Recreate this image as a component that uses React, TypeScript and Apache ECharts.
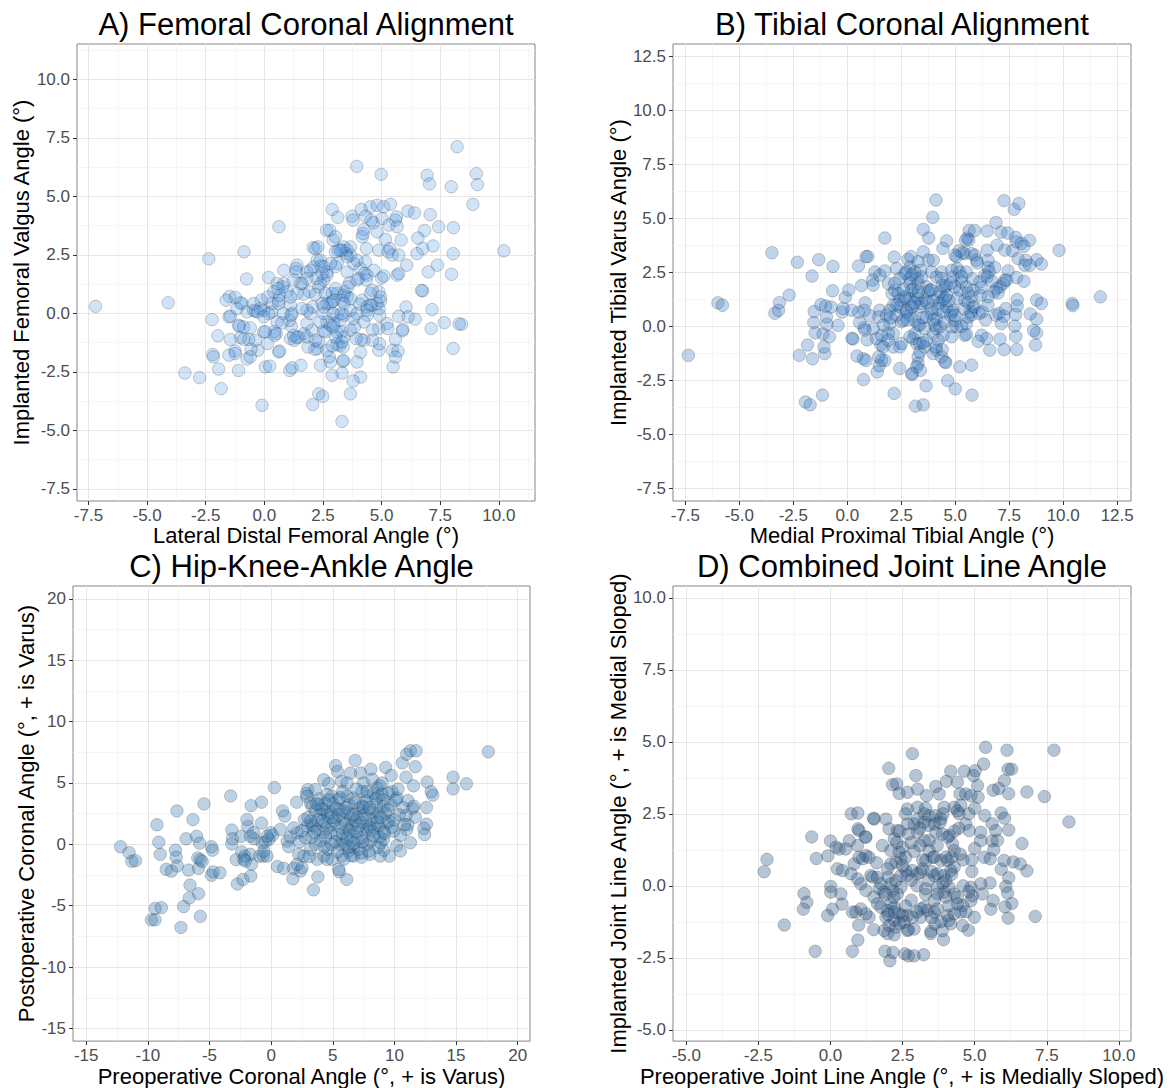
import React, { useEffect, useRef } from "react";
import * as echarts from "echarts";

// ---------- DATA ----------
const FEMORAL_POINTS: number[][] = [
  [-7.2,0.3],[-4.1,0.45],[-2.37,2.33],[-3.39,-2.55],[-2.76,-2.75],[-1.84,-3.22],[-1.95,-2.38],[-1.1,-2.44],[-0.1,-3.93],[0.62,3.7],[-0.87,2.63],[-0.76,1.47],[3.94,6.28],[4.98,5.94],[8.22,7.12],[6.94,5.9],[7.04,5.53],[7.97,5.41],[9.04,5.97],[9.09,5.5],[8.89,4.66],[10.21,2.67],[8.05,-1.5],[8.41,-0.47],[8.3,-0.45],[7.67,-0.4],[7.11,-0.65],[7.15,0.16],[7.98,1.67],[8.05,2.55],[8.06,3.66],[7.43,3.7],[7.07,4.22],[6.83,3.54],[6.75,2.77],[7.19,2.88],[7.38,2.06],[6.99,1.77],[6.75,0.96],[6.7,0.98],[6.51,2.55],[6.55,3.22],[6.12,4.37],[6.4,4.29],[6.07,2.06],[6.43,-0.25],[6.04,0.27],
  [2.89,4.44],[3.13,4.1],[3.74,4.15],[3.78,3.98],[4.13,4.44],[4.31,4.15],[4.52,4.55],[4.81,4.62],[5.09,4.55],[5.38,4.66],[5.63,4.12],[5.59,3.98],[5.02,4.05],[4.64,3.87],[4.55,3.98],[4.24,3.58],[4.17,3.27],[4.21,3.41],[4.81,3.48],[5.31,3.77],[5.66,3.7],[5.16,3.16],[4.35,2.77],[4.88,2.7],[5.35,2.77],[5.28,2.63],[5.45,2.49],[5.73,2.49],[5.83,3.13],
  [5.66,1.63],[5.73,1.7],[4.99,1.51],[5.09,1.6],[6.13,-0.15],[5.73,-0.13],[5.9,-0.69],[5.88,-0.75],[5.59,-1.11],[5.46,-1.58],[5.49,-2.29],[5.7,-1.61],[5.59,-1.87],[5.23,-0.44],[4.88,-0.65],[4.92,-0.08],[4.89,0.2],[4.62,-0.71],[5.26,-0.65],[4.88,-1.58],[4.91,-1.3],[4.61,-1.15],[4.13,-1.12],[4.24,-1.15],[3.91,-1.08],[4.1,-1.68],[3.95,-2.08],[3.36,-2.05],[3.36,-2.01],[4.1,-2.72],[3.67,-3.44],[3.78,-2.89],[3.31,-2.55],[2.89,-2.65],[3.31,-4.62],[2.32,-3.44],[2.49,-3.55],[2.06,-3.9],[0.04,-2.29],[0.23,-2.26],[1.08,-2.44],[1.18,-2.33],[1.56,-2.22],[2.39,-2.22],[2.82,-2.08],[2.77,-1.86],[2.67,-1.58],[3.1,-1.32],[3.21,-1.39],[3.36,-1.44],[2.89,-1.39],[2.25,-1.51],[2.15,-1.54],[1.86,-1.44],[1.82,-1.01],[1.68,-0.87],[2.03,-0.72],[2.53,-0.75],[2.6,-0.79],[2.32,-1.22],[2.18,-1.15],[1.82,-0.44],[1.47,-1.01],[1.28,-1.15],[1.11,-1.08],[1.25,-0.94],[1.15,-0.55],[1.39,-1.04],[0.61,-1.65],[0.65,-1.61],[0.14,-1.29],[0.51,-0.87],[0.43,-0.78],[-0.03,-0.79],[-0.28,-1.58],[-0.57,-1.54],[-0.74,-1.95],[-0.6,-1.86],[-0.38,-1.15],[-0.67,-1.11],[-1.02,-1.04],[-0.88,-1.11],[-1.45,-1.12],[-1.25,-1.61],[-1.24,-1.72],[-1.51,-1.79],[-2.2,-1.76],[-2.17,-1.86],[-1.98,-0.96],[-2.23,-0.27],[-1.51,-0.15],[-1.1,-0.51],[-1.06,-0.55],[-0.88,-0.58],[-0.6,-0.62],[-0.95,0.42],[-1.02,0.45],[-1.49,0.72],[-1.24,0.68],[-1.17,0.2],[-0.74,0.06],[-0.46,0.13],[-0.38,0.09],[-0.13,0.56],[-0.03,0.13],[0.3,0.06],[0.33,0.42],[0.61,0.42],[0.83,1.27],[0.78,1.13],[0.61,0.56],[0.65,0.77],[1.11,0.35],[1.18,-0.01],[1.08,-0.3],[1.14,-0.08],[0.97,0.92],[0.8,-0.01],[0.54,-0.37],[0.75,-0.41],[0.18,-0.01],[0.18,1.53],[0.83,1.84],[1.39,2.06],[1.35,1.91],[1.36,1.77],[1.61,1.27],[1.82,1.77],[1.96,1.84],[2.11,1.99],[2.25,2.27],[2.08,2.81],[2.18,2.77],[2.29,2.84],[2.39,2.27],[2.42,2.02],[2.67,1.63],[2.67,1.77],[2.53,1.42],[2.39,1.27],[2.22,1.49],[1.82,1.49],[1.93,0.92],[2.32,1.13],[2.18,0.8],[1.68,0.82],[1.54,1.27],[1.25,1.42],[1.39,0.85],[2.6,0.85],[2.82,0.42],[2.67,0.42],[2.89,0.85],[3.1,0.85],[3.43,0.92],[3.64,1.31],[3.39,0.77],[3.53,0.7],[3.31,0.56],[3.67,0.63],[3.39,0.42],[3.56,1.13],[3.03,1.06],[2.96,0.56],[2.89,0.49],[3.1,-0.08],[2.93,-0.01],[3.39,-0.08],[3.24,-0.3],[3.29,-0.01],[2.82,-0.51],[2.96,-0.44],[2.67,-0.37],[2.39,-0.37],[2.06,0.28],[1.96,-0.01],[1.82,0.13],[2.46,0.42],[2.53,0.28],[2.53,-0.01],[4.17,0.56],[4.07,0.39],[4.38,0.28],[4.59,0.35],[4.81,0.42],[4.95,0.53],[4.95,0.7],[4.88,0.92],[4.52,0.85],[4.59,0.99],[4.52,0.35],[4.38,0.13],[4.38,-0.08],[3.81,-0.22],[3.67,0.13],[3.95,-0.01],[4.24,-0.37],[3.84,-0.58],[3.67,-0.72],[3.31,-0.79],[3.39,-1.01],[3.31,-1.22],[3.1,-0.79],[3.03,-1.01],[2.93,-0.58],[3.53,1.77],[3.81,2.13],[4.31,2.2],[4.1,1.91],[4.28,1.7],[4.03,1.49],[4.38,1.63],[4.35,1.42],[4.67,1.84],[3.95,2.27],[3.67,2.49],[3.53,2.7],[3.46,2.56],[3.31,2.7],[3.14,2.7],[3.03,2.63],[3.39,2.84],[3.67,2.84],[3.53,2.42],[3.1,2.13],[3.03,1.99],[2.82,2.13],[2.53,1.99],[2.46,1.7],[2.93,3.13],[2.79,3.55],[3.03,3.27],[2.65,3.55],[3.24,2.7],[3.95,1.42],[1.61,0.2],[1.11,0.7],[0.54,1.27],[0.4,0.92],[0.58,1.06],[0.14,0.7],[-0.17,0.2],[-0.28,0.06],[-0.46,0.42],[-0.03,-0.15],[0.43,-0.94],[0.04,-0.79],[-1.45,-0.12],[-1.63,0.56]
];

const TIBIAL_POINTS: number[][] = [
  [-7.36,-1.34],[-5.99,1.09],[-5.78,0.98],[-3.49,3.41],[-3.35,0.61],[-3.18,0.74],[-3.14,1.1],[-2.69,1.45],[-2.31,2.97],[-2.22,-1.34],[-1.84,-0.86],[-1.94,-3.5],[-1.72,-3.63],[-1.63,2.33],[-1.61,-1.5],[-1.55,0.18],[-1.53,0.69],[-1.49,-0.3],[-1.32,3.09],[-1.15,-3.18],[-1.04,-1.26],[-1.08,-0.95],[-1.12,-0.35],[-0.94,0.1],[-1.22,1.01],[-0.75,0.9],[-0.66,2.78],[-0.68,1.65],[-0.82,-0.48],[-0.43,0.05],[-0.24,0.66],[-0.09,1.34],[0.07,1.69],[0.52,2.8],[0.87,3.23],[0.95,3.23],[0.66,1.89],[0.26,-0.58],[0.22,-0.55],[0.45,-1.37],[0.75,-1.5],[0.87,-1.58],[0.75,-2.46],[0.92,-0.62],[0.78,-0.06],[0.57,0.18],[0.52,0.66],[0.83,1.09],[1.04,0.5],[1.39,-2.11],[1.48,-1.82],[1.74,-1.58],[1.56,-0.86],[1.74,4.09],[2.17,3.21],[2.17,-3.1],[2.43,-1.95],[2.81,3.1],[2.95,3.23],[2.99,-2.22],[3.16,-3.69],[3.52,-3.63],[3.65,-2.75],[3.52,4.49],[3.77,4.09],[3.96,5.05],[4.11,5.85],[4.43,3.61],[4.6,3.96],[4.65,-2.51],[5.0,-2.89],[5.21,-1.87],[5.76,-1.79],[5.78,-3.18],[5.56,4.09],[5.64,4.44],[5.9,4.44],[6.48,4.41],[6.89,4.81],[7.26,5.82],[7.73,5.42],[7.95,5.69],[7.12,4.36],[7.43,4.32],[7.81,4.12],[8.44,3.98],[9.81,3.52],[10.42,1.06],[10.45,0.96],[11.72,1.37],[8.99,2.89],[8.77,3.09],[8.77,1.22],[8.99,1.06],[8.77,-0.3],[8.72,-0.86],[8.63,-0.19],[8.47,0.58],[8.77,0.34],[7.85,-1.07],[7.26,-1.07],[6.6,-1.1],[7.07,-0.59],[7.81,-0.46],[7.76,0.02],
  [1.28,2.52],[1.51,2.37],[1.74,2.57],[1.17,2.14],[1.2,1.91],[0.79,0.75],[0.2,0.75],[-0.19,0.83],[-0.96,0.44],[-1.0,0.94],[1.51,0.75],[1.46,0.44],[1.35,-0.56],[1.59,-0.41],[1.67,-0.95],[1.46,-1.41],[1.59,-1.56],[2.13,-0.95],[2.13,-0.33],[1.9,-0.33],[1.97,0.13],[2.44,-0.95],[2.51,-0.79],[2.07,1.52],[2.2,1.68],[2.36,1.52],[2.44,1.21],[2.44,0.9],[2.13,0.98],[1.97,0.75],[2.67,1.29],[2.74,0.75],[2.51,0.21],[2.9,0.52],[3.05,0.9],[2.9,1.29],[3.05,1.75],[3.28,1.98],[3.24,2.22],[3.44,2.29],[3.67,1.83],[3.75,1.6],[3.59,1.21],[3.21,1.44],[3.36,0.9],[3.28,0.06],[3.21,-0.79],[3.05,-0.56],[3.36,-0.79],[3.67,-0.64],[3.59,-0.95],[3.98,-0.33],[4.13,-0.1],[4.13,0.36],[3.9,0.83],[3.98,1.21],[4.21,1.37],[4.29,1.6],[4.6,1.44],[4.44,1.21],[4.6,0.9],[4.9,0.75],[4.78,0.52],[4.52,1.83],[4.9,2.29],[5.09,2.68],[5.06,3.22],[5.44,3.37],[5.75,3.37],[5.63,3.99],[5.21,2.52],[5.21,1.68],[5.52,1.83],[5.44,1.21],[5.83,0.9],[5.75,0.52],[5.52,0.13],[5.44,-0.41],[5.06,-0.02],[4.83,-0.48],[4.44,-0.41],[4.21,-0.64],[4.13,-1.1],[3.98,-1.26],[3.28,-1.41],[3.28,-1.72],[3.21,-1.87],[3.01,-2.18],[4.52,-1.64],[4.37,-1.41],[3.52,3.45],[3.75,3.07],[2.9,2.75],[2.28,2.68],[2.44,2.22],[2.74,2.52],[2.9,2.22],[3.9,2.52],[4.13,2.29],[4.37,2.52],[1.9,1.98],[1.82,0.52],[2.28,0.52],[1.67,0.06],[1.9,-0.64],[1.2,-0.1],[0.82,-0.17],
  [8.07,3.84],[7.84,3.91],[8.18,3.71],[5.48,3.99],[5.18,3.5],[5.34,3.4],[4.98,3.3],[5.91,3.3],[5.99,3.06],[6.48,3.53],[6.94,3.76],[7.3,3.53],[7.65,3.5],[7.91,3.14],[8.27,3.06],[8.22,2.83],[8.45,2.83],[6.52,3.06],[6.52,2.73],[6.83,2.73],[6.37,2.37],[6.48,2.29],[7.45,2.57],[7.84,2.26],[8.18,2.09],[7.3,2.14],[7.22,1.98],[7.07,1.83],[6.91,1.75],[6.79,1.6],[6.99,1.55],[7.38,2.14],[6.57,2.52],[6.14,2.06],[5.6,1.55],[5.83,1.68],[5.75,1.37],[5.91,0.9],[6.11,0.6],[6.26,0.67],[5.71,0.67],[6.52,1.37],[6.52,0.98],[6.17,1.44],[6.88,0.52],[7.03,0.6],[7.25,0.47],[7.34,0.83],[7.14,0.13],[7.87,1.24],[7.87,0.94],[7.8,0.55],[6.45,-0.56],[6.22,-0.41],[6.06,-0.69],[5.52,-0.36],[4.87,-0.02],[5.29,0.01],[4.56,-1.67],[4.4,-1.07],[4.1,-0.95],[3.39,-2.03],[3.36,-1.18],[3.51,-0.76],[3.28,2.99],[3.98,3.06],[4.83,2.6],[5.52,2.52],[6.02,2.94],[5.29,2.06],[4.59,1.91],[4.36,2.22],[3.82,1.68],[3.13,2.52],[2.67,2.45],[2.9,1.98],[2.97,1.68],[3.28,1.29],[2.67,1.37],[2.74,0.67],[2.59,0.29],[2.97,0.9],[3.44,1.06],[4.29,1.06],[4.52,1.29],[4.98,1.83],[5.6,0.44],[4.83,0.67],[4.44,0.67],[3.9,0.6],[3.67,0.44],[3.36,0.06],[3.13,0.29],[4.29,-0.02],[4.06,0.06],[3.59,-0.1],[3.13,-0.33],[2.9,-0.48],[4.98,0.29],
  [2.3,1.0],[2.6,1.7],[2.8,0.3],[3.1,1.1],[3.3,1.6],[3.5,0.4],[3.7,1.1],[3.9,1.7],[4.0,0.3],[4.2,0.8],[4.4,1.9],[4.5,0.2],[4.7,1.2],[4.8,2.0],[5.0,0.5],[5.1,1.3],[5.3,2.3],[5.4,0.8],[5.6,1.1],[5.8,2.2],[3.0,2.4],[3.4,2.6],[2.0,0.4],[2.2,2.0],[6.2,1.8],[6.7,2.1],[6.4,0.3]
];

const HKA_POINTS: number[][] = [
  [-12.21,-0.2],[-11.52,-0.68],[-11.3,-1.39],[-11.0,-1.33],[-9.26,1.59],[-9.11,0.17],[-8.99,-0.82],[-9.71,-6.15],[-9.41,-6.15],[-9.41,-5.22],[-8.9,-5.16],[-8.51,-2.04],[-8.09,-2.18],[-7.64,2.72],[-7.76,-0.48],[-7.7,-1.05],[-7.61,-1.76],[-7.31,-6.77],[-7.1,-5.07],[-6.89,0.45],[-6.7,-2.1],[-6.64,-4.37],[-6.58,-3.32],[-6.34,2.01],[-6.04,0.65],[-5.95,-1.11],[-5.89,-1.96],[-5.8,0.09],[-5.89,-4.02],[-5.74,-5.87],[-5.74,-1.25],[-5.6,-1.4],[-5.44,3.29],[-4.84,-0.2],[-4.75,-0.48],[-4.84,-2.52],[-4.7,-2.25],[-4.15,-2.32],[-3.28,3.94],[-3.19,1.16],[-3.13,0.45],[-3.19,0.03],[-2.83,-1.25],[-2.74,-3.23],[-2.29,-2.86],[-2.38,-0.62],[-2.13,-0.96],[-2.43,0.65],[-1.89,1.45],[-1.68,0.65],[-1.62,3.15],[-1.65,-2.58],[-1.59,-1.62],[-1.68,-0.82],[-1.38,0.45],[-0.93,-0.96],[-0.78,1.73],[-0.78,3.43],[-0.63,-0.96],[-0.33,-0.96],[-0.48,0.17],[-0.03,0.94],[0.12,0.74],[0.27,4.62],[0.51,-1.81],[0.93,2.72],[1.11,2.3],[1.02,-1.96],[1.77,-2.81],[1.83,-1.96],[2.07,3.43],[2.38,-2.18],[3.43,-3.71],[3.79,-2.66],[5.53,-2.24],[6.13,-2.86],[5.23,6.41],[5.38,5.92],[6.82,6.83],[7.25,5.81],[8.09,6.12],[9.29,6.26],[9.74,5.61],[10.64,6.63],[11.0,7.34],[11.3,7.62],[11.76,7.62],[11.7,6.32],[10.94,5.47],[11.55,4.76],[12.66,5.07],[12.99,4.28],[13.11,4.0],[12.6,3.0],[12.6,1.64],[12.39,1.3],[12.45,0.79],[14.76,5.47],[14.76,4.51],[15.84,4.93],[17.62,7.54],[11.7,2.21],[11.46,2.92],[11.09,3.57],[10.94,2.35],[11.09,1.59],[11.0,1.2],[10.49,0.74],[10.19,-0.11],[10.49,-0.54],[9.59,-0.96],[8.84,-0.96],[9.14,-0.48],[8.7,-0.25],[8.0,-0.82],[7.34,-1.05],
  [6.43,5.8],[4.27,5.26],[4.67,4.94],[5.7,5.12],[6.16,4.99],[7.51,4.99],[8.81,4.78],[8.59,4.59],[2.97,4.45],[2.86,4.13],[3.59,4.45],[2.92,3.91],[3.19,3.37],[3.32,3.1],[3.86,3.24],[4.54,4.05],[4.94,3.91],[5.48,3.64],[6.16,3.91],[6.7,3.77],[7.38,4.31],[7.78,3.91],[8.32,4.18],[8.73,3.91],[9.0,4.05],[9.54,4.18],[9.81,4.31],[10.21,3.77],[11.57,3.1],[10.81,1.61],[9.4,1.75],[9.54,1.88],[9.13,1.07],[8.73,1.48],[8.19,1.07],[7.78,1.61],[7.38,1.21],[7.16,2.56],[7.38,3.1],[7.92,2.83],[8.59,3.24],[8.73,2.56],[8.59,2.15],[9.13,3.1],[6.83,1.88],[6.43,2.15],[6.16,2.56],[5.48,2.83],[5.21,2.15],[4.54,2.42],[4.27,2.83],[4.0,2.42],[3.46,1.48],[2.92,1.48],[2.78,0.53],[3.32,1.61],[3.73,1.21],[4.27,0.94],[4.81,0.94],[5.35,0.8],[5.75,0.4],[5.62,-0.01],[4.94,1.61],[4.4,1.75],[6.29,1.21],[6.43,0.67],[6.97,0.4],[7.38,0.53],[7.78,-0.01],[6.7,-0.28],[6.29,-0.55],[5.75,-0.95],[5.89,-1.22],[5.48,-2.03],[4.94,-1.22],[4.27,-0.95],[4.54,-1.22],[3.73,-1.22],[3.59,-0.01],[3.19,-0.41],[2.65,-0.95],[2.24,-0.82],[2.11,-1.63],[2.51,-1.9],[1.3,0.26],[1.43,-0.2],[1.56,0.61],[2.11,0.94],[1.83,1.34],[0.75,1.21],[-0.19,0.4],[-0.6,-0.55],[7.92,-0.55],[6.7,-0.95],[7.78,1.21],[9.13,0.4],[8.86,0.13],[8.05,0.26],[9.94,1.07],[11.3,0.13],[-1.95,2.02],[-2.22,-1.22],[-2.09,-1.36],[-1.41,0.94],[-0.73,0.13],[-0.33,0.67],
  [3.0,2.2],[3.6,2.7],[4.2,1.9],[4.8,2.6],[5.0,3.3],[5.6,1.4],[5.9,2.0],[6.3,3.2],[6.6,1.6],[7.0,2.2],[7.4,1.8],[7.7,3.5],[8.1,2.0],[8.4,1.3],[8.8,0.6],[9.3,2.5],[9.7,3.2],[10.0,2.0],[4.0,0.3],[4.6,-0.4],[5.2,0.2],[6.0,0.0],[6.5,-0.9],[7.1,-0.4],[3.3,0.6],[2.5,1.1],[3.9,3.7],[4.4,3.3],[5.8,4.3],[6.9,4.5],[8.2,5.3],[9.0,5.0],[10.3,4.5],[10.7,3.0],
  [3.5,1.0],[3.8,2.0],[4.1,2.9],[4.3,-0.2],[4.5,1.3],[4.7,3.6],[4.9,0.0],[5.1,1.9],[5.3,2.9],[5.4,-0.6],[5.6,3.8],[5.8,0.9],[6.0,1.6],[6.1,3.0],[6.3,-0.2],[6.4,1.1],[6.6,2.4],[6.8,3.4],[6.9,1.0],[7.1,1.5],[7.2,2.9],[7.4,0.2],[7.6,2.4],[7.8,4.3],[8.0,1.4],[8.2,2.6],[8.3,0.7],[8.5,3.7],[8.6,1.8],[8.9,2.2],[9.1,3.6],[9.2,0.9],[9.5,2.8],[9.8,1.4],[10.1,3.6],[10.4,2.4],[3.2,1.9],[3.7,3.3],[4.4,0.6],[5.5,2.4],[6.2,0.5],[7.5,3.0],[8.0,3.0],[4.9,2.2],[5.9,2.7],[6.7,0.1],[7.3,-0.7],[3.1,-1.0],[2.7,2.0],[2.3,0.2]
];

const JLA_POINTS: number[][] = [
  [-2.2,0.92],[-2.3,0.49],[-1.6,-1.36],[-0.65,1.7],[-0.92,-0.27],[-0.82,-0.57],[-0.94,-0.81],[-0.53,-2.27],[-0.49,0.95],[-0.09,1.04],[0.0,1.56],[0.01,-0.02],[0.07,-0.81],[0.2,1.34],[0.4,-0.63],[0.76,-2.27],[0.72,2.5],[0.95,2.53],[0.95,-1.88],[0.98,-1.36],[2.02,4.08],[2.84,4.59],[2.96,3.83],[1.89,-2.27],[2.06,-2.6],[2.17,-2.31],[2.58,-2.36],[2.7,-2.43],[2.9,-2.43],[3.23,-2.39],[5.38,4.81],[6.12,4.71],[7.75,4.71],[8.27,2.22],[7.42,3.1],[6.81,3.26],[7.1,-1.06],[6.64,1.47],[6.81,0.52],[6.16,4.05],[6.28,4.05],[6.03,3.65],[6.18,3.2],[6.16,-1.12],[6.29,-0.61],[6.05,-0.73],[5.56,-0.81],[4.99,-1.09],[4.78,-1.54],[3.92,-1.87],[3.48,-1.58],[2.7,-1.52],[2.21,-1.7],[1.5,-1.52],[5.83,3.38],[5.64,3.32],[5.92,2.53],[6.03,2.35],[6.18,1.94],[5.73,1.92],[5.6,2.16],[5.6,1.56],[5.79,1.58],[5.66,1.25],[5.92,0.58],[6.34,0.83],[6.18,0.28],[6.08,-0.02],[5.53,0.1],[5.64,-0.51],
  [2.15,3.51],[2.3,3.54],[2.38,3.21],[2.67,3.25],[3.02,3.36],[3.33,3.13],[3.65,3.45],[3.77,3.19],[4.02,3.63],[4.17,3.98],[4.64,3.98],[4.96,3.83],[5.02,4.0],[5.31,4.23],[5.1,3.48],[4.49,3.19],[4.69,3.19],[4.87,3.13],[5.12,3.08],[2.67,2.67],[3.02,2.73],[3.25,2.5],[3.42,2.44],[3.65,2.44],[3.83,2.32],[3.94,2.73],[4.29,2.73],[4.46,2.5],[4.52,2.79],[4.69,2.15],[4.81,1.92],[5.35,2.44],[5.21,1.86],[5.21,1.57],[5.33,0.99],[5.54,0.94],[6.02,0.88],[6.58,0.76],[6.14,-0.25],[5.21,0.07],[5.27,-0.28],[4.87,-0.05],[4.92,-0.34],[4.87,-0.51],[4.58,-1.38],[4.17,-1.32],[3.88,-1.55],[3.83,-1.24],[4.06,-1.03],[4.29,-0.97],[4.52,-0.91],[4.58,-0.68],[4.4,-0.62],[4.29,-0.28],[4.12,-0.05],[3.94,-0.22],[3.71,-0.05],[3.71,-0.28],[4.0,-0.39],[3.25,-0.74],[3.36,-0.86],[3.13,-0.8],[3.6,-0.91],[3.62,-1.32],[3.48,-1.66],[3.13,-1.09],[2.84,-1.09],[2.67,-1.03],[2.5,-1.03],[2.38,-0.97],[2.21,-0.74],[2.09,-0.62],[1.98,-0.86],[1.92,-1.09],[2.21,-1.2],[2.27,-1.43],[2.03,-1.38],[1.98,-1.66],[1.86,-1.55],[2.55,-1.26],[2.67,-1.55],[2.44,-0.05],[2.32,-0.28],[2.15,-0.16],[2.09,0.07],[2.27,0.18],[2.44,0.36],[2.61,0.53],[2.67,0.36],[2.84,0.53],[3.02,0.42],[3.13,0.47],[3.19,0.59],[3.31,0.88],[3.54,0.99],[3.6,0.36],[3.71,0.42],[3.94,0.36],[4.0,0.18],[3.83,0.88],[4.06,0.88],[4.29,0.65],[4.17,0.53],[4.29,1.23],[4.23,1.46],[4.12,1.75],[4.06,1.69],[3.88,1.8],[3.65,1.86],[3.42,1.57],[3.25,1.57],[3.42,1.23],[3.02,1.86],[2.9,2.15],[3.02,2.32],[3.25,2.21],[3.6,2.15],[2.5,1.34],[2.38,1.17],[2.44,0.94],[2.61,0.99],[2.27,0.82],[2.09,0.76],[1.98,0.59],[2.09,1.23],[2.21,1.63],[2.03,1.98],[2.32,1.92],[1.92,2.32],[2.67,2.15],[1.51,2.32],[1.23,1.69],[0.94,1.4],[0.99,1.92],[0.65,1.57],[0.53,1.28],[0.3,1.28],[0.24,0.59],[0.42,0.53],[0.71,0.42],[0.82,0.76],[1.11,0.94],[1.23,1.05],[1.34,0.99],[0.99,0.99],[0.94,0.24],[1.05,0.07],[1.23,-0.16],[1.4,0.36],[1.46,0.3],[1.63,0.3],[1.69,-0.1],[1.51,-0.39],[1.63,-0.62],[1.75,-0.74],[1.75,0.07],[1.86,-0.22],[1.34,-1.09],[1.23,-0.97],[1.05,-0.8],[0.88,-0.91],[0.76,-0.91],[0.36,-0.28],[0.01,-0.22],[-0.1,-1.03],[2.21,-0.91],[0.95,1.98],[1.5,2.35],[1.21,1.7],[4.4,3.6],[4.8,2.5],[5.0,2.7],[4.45,2.0],[4.2,1.0],[4.6,0.9],[4.9,0.5],[5.0,1.3],[4.1,-0.7],[3.3,-0.3],[3.0,0.0],[2.8,-0.5],
  [1.8,1.4],[2.0,0.3],[2.2,-0.4],[2.3,1.5],[2.5,0.7],[2.6,-0.7],[2.7,1.8],[2.8,0.2],[2.9,1.2],[3.0,-0.9],[3.1,2.0],[3.2,0.9],[3.3,-0.1],[3.4,2.1],[3.5,0.5],[3.6,-0.5],[3.7,1.4],[3.8,2.2],[3.9,0.1],[4.0,1.0],[4.1,-1.2],[4.2,0.4],[4.3,1.9],[4.4,-0.4],[4.5,1.1],[4.6,0.0],[4.7,-0.9],[2.4,-1.3],[2.9,-1.5],[3.5,-1.1],[1.6,0.8],[1.9,-0.3],[2.6,2.5],[3.3,2.7],[3.9,2.5],[4.4,2.6],[3.1,1.4],[3.6,1.0],[2.4,1.9],[2.0,-1.0],[4.9,0.9],[4.8,-0.2],[3.7,-0.8],[2.8,1.5],[3.4,0.2]
];

const TITLES = [
  "A) Femoral Coronal Alignment",
  "B) Tibial Coronal Alignment",
  "C) Hip-Knee-Ankle Angle",
  "D) Combined Joint Line Angle",
];
const X_NAMES = [
  "Lateral Distal Femoral Angle (°)",
  "Medial Proximal Tibial Angle (°)",
  "Preoperative Coronal Angle (°, + is Varus)",
  "Preoperative Joint Line Angle (°, + is Medially Sloped)",
];
const Y_NAMES = [
  "Implanted Femoral Valgus Angle (°)",
  "Implanted Tibial Varus Angle (°)",
  "Postoperative Coronal Angle (°, + is Varus)",
  "Implanted Joint Line Angle (°, + is Medial Sloped)",
];

const TICKS_A = [-7.5, -5, -2.5, 0, 2.5, 5, 7.5, 10];
const MINOR_A = [-6.25, -3.75, -1.25, 1.25, 3.75, 6.25, 8.75, 11.25];
const TICKS_B = [-7.5, -5, -2.5, 0, 2.5, 5, 7.5, 10, 12.5];
const MINOR_B = [-6.25, -3.75, -1.25, 1.25, 3.75, 6.25, 8.75, 11.25];
const TICKS_C = [-15, -10, -5, 0, 5, 10, 15, 20];
const MINOR_C = [-12.5, -7.5, -2.5, 2.5, 7.5, 12.5, 17.5];
const TICKS_D = [-5, -2.5, 0, 2.5, 5, 7.5, 10];
const MINOR_D = [-3.75, -1.25, 1.25, 3.75, 6.25, 8.75];

// ---------- LAYOUT / STYLE ----------
const FONT = "'Liberation Sans', Arial, sans-serif";

const PANELS = [
  { data: FEMORAL_POINTS, ticks: TICKS_A, minor: MINOR_A, decimals: 1,
    left: 77, top: 44, width: 458, height: 457,
    xMin: -7.99, xMax: 11.54, yMin: -8.02, yMax: 11.51,
    titleY: 24, yNameGap: 45, color: "rgba(80,150,225,0.34)" },
  { data: TIBIAL_POINTS, ticks: TICKS_B, minor: MINOR_B, decimals: 1,
    left: 673, top: 44, width: 458, height: 457,
    xMin: -8.07, xMax: 13.14, yMin: -8.08, yMax: 13.07,
    titleY: 24, yNameGap: 44, color: "rgba(60,125,195,0.4)" },
  { data: HKA_POINTS, ticks: TICKS_C, minor: MINOR_C, decimals: 0,
    left: 73, top: 586, width: 457, height: 457,
    xMin: -16.07, xMax: 21.0, yMin: -16.03, yMax: 21.04,
    titleY: 566, yNameGap: 36, color: "rgba(70,130,180,0.45)" },
  { data: JLA_POINTS, ticks: TICKS_D, minor: MINOR_D, decimals: 1,
    left: 673, top: 586, width: 458, height: 456,
    xMin: -5.46, xMax: 10.42, yMin: -5.39, yMax: 10.41,
    titleY: 566, yNameGap: 44, color: "rgba(54,95,139,0.45)" },
];

function buildOption() {
  const grid: any[] = [];
  const xAxis: any[] = [];
  const yAxis: any[] = [];
  const series: any[] = [];
  const graphic: any[] = [];

  PANELS.forEach((p, i) => {
    grid.push({
      left: p.left, top: p.top, width: p.width, height: p.height,
      show: true, borderColor: "#858585", borderWidth: 1,
      backgroundColor: "transparent",
    });
    const fmt = (v: number) => (p.decimals ? Number(v).toFixed(1) : String(Math.round(v)));
    const labelStyle = { fontFamily: FONT, fontSize: 17, color: "#4d4d4d" };
    const nameStyle = { fontFamily: FONT, fontSize: 22, color: "#000" };
    const majorSplit = { show: true, lineStyle: { color: "#e6e6e6", width: 1 } };
    const minorSplit = { show: true, lineStyle: { color: "#f2f2f2", width: 0.7 } };

    const mk = (dim: "x" | "y") => {
      const min = dim === "x" ? p.xMin : p.yMin;
      const max = dim === "x" ? p.xMax : p.yMax;
      const pos = dim === "x" ? "bottom" : "left";
      const major = {
        type: "value", gridIndex: i, min, max, position: pos,
        name: dim === "x" ? X_NAMES[i] : Y_NAMES[i],
        nameLocation: "middle",
        nameGap: dim === "x" ? 23 : p.yNameGap,
        nameTextStyle: nameStyle,
        axisLine: { show: false, onZero: false },
        axisTick: { show: true, length: 4, lineStyle: { color: "#333", width: 1 }, customValues: p.ticks },
        axisLabel: { customValues: p.ticks, formatter: fmt, margin: dim === "x" ? 6 : 7, ...labelStyle },
        splitLine: majorSplit,
        z: 1,
      };
      const minorAx = {
        type: "value", gridIndex: i, min, max, position: pos,
        axisLine: { show: false, onZero: false },
        axisTick: { show: false, customValues: p.minor },
        axisLabel: { show: false, customValues: p.minor },
        splitLine: minorSplit,
        z: 0,
      };
      return [major, minorAx];
    };
    xAxis.push(...mk("x"));
    yAxis.push(...mk("y"));

    series.push({
      type: "scatter",
      xAxisIndex: 2 * i,
      yAxisIndex: 2 * i,
      data: p.data,
      symbol: "circle",
      symbolSize: 12.5,
      itemStyle: { color: p.color, borderColor: "rgba(0,0,0,0.35)", borderWidth: 0.7 },
      emphasis: { disabled: true },
      silent: true,
      z: 3,
    });

    graphic.push({
      type: "text",
      x: p.left + p.width / 2,
      y: p.titleY,
      style: {
        text: TITLES[i],
        fontFamily: FONT,
        fontSize: 31,
        fill: "#000",
        align: "center",
        verticalAlign: "middle",
      },
    });
  });

  return {
    animation: false,
    backgroundColor: "#ffffff",
    textStyle: { fontFamily: FONT },
    grid, xAxis, yAxis, series, graphic,
  };
}

export default function App() {
  const ref = useRef<HTMLDivElement>(null);
  useEffect(() => {
    document.body.style.margin = "0";
    if (!ref.current) return;
    const chart = echarts.init(ref.current, undefined, { renderer: "svg" });
    chart.setOption(buildOption());
    return () => chart.dispose();
  }, []);
  return <div ref={ref} style={{ width: 1176, height: 1088 }} />;
}
